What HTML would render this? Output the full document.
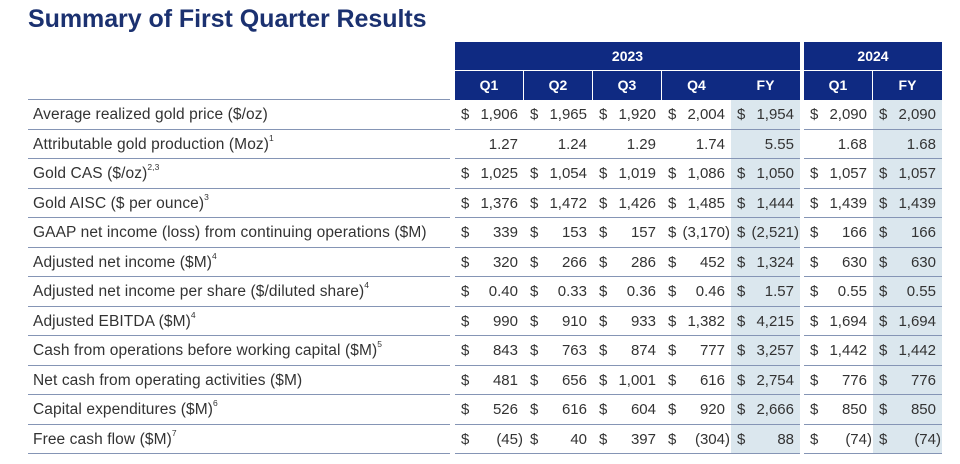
<!DOCTYPE html>
<html><head><meta charset="utf-8"><style>
body{margin:0;width:960px;height:464px;background:#fff;position:relative;overflow:hidden;font-family:"Liberation Sans",sans-serif;color:#333}
.t{position:absolute;left:28px;top:5px;font-size:25px;font-weight:bold;color:#1b3170;letter-spacing:-0.05px}
.h{position:absolute;background:#0f2a82;color:#fff;font-weight:bold;font-size:14px;text-align:center;box-sizing:border-box}
.sh{position:absolute;background:#dbe7ee}
.ln{position:absolute;height:1px;border-top:1px solid #8595b5;box-sizing:border-box;height:2px;border-bottom:0;background:none}
.lb{position:absolute;left:33px;font-size:15.5px;line-height:30px;height:29px;white-space:nowrap;letter-spacing:0.1px}
.lb sup{font-size:8.5px;line-height:0;position:relative;top:-2px}
.c{position:absolute;font-size:15px;line-height:30px;height:29px;box-sizing:border-box}
.c .d{position:absolute;left:6px}
.c .v{position:absolute;right:6px}
.c .v.p{right:1px}
</style></head><body>
<div class="t">Summary of First Quarter Results</div>
<div class="sh" style="left:731px;top:100px;width:69px;height:354px"></div>
<div class="sh" style="left:873px;top:100px;width:69px;height:354px"></div>
<div class="h" style="left:455px;top:42px;width:345px;height:28px;line-height:28px">2023</div>
<div class="h" style="left:804px;top:42px;width:138px;height:28px;line-height:28px">2024</div>
<div id="hd"></div>
<div id="rows"></div>
<script>
var cols=[455,524,593,662,731,804,873],w=69;
var hd='',names=['Q1','Q2','Q3','Q4','FY','Q1','FY'];
cols.forEach(function(x,i){hd+='<div class="h" style="left:'+x+'px;top:71px;width:'+(w-(i==3||i==4||i==6?0:1))+'px;height:29px;line-height:29px">'+names[i]+'</div>';});
document.getElementById('hd').innerHTML=hd;
var R=[
["Average realized gold price ($/oz)","",1,["1,906","1,965","1,920","2,004","1,954","2,090","2,090"]],
["Attributable gold production (Moz)","1",0,["1.27","1.24","1.29","1.74","5.55","1.68","1.68"]],
["Gold CAS ($/oz)","2,3",1,["1,025","1,054","1,019","1,086","1,050","1,057","1,057"]],
["Gold AISC ($ per ounce)","3",1,["1,376","1,472","1,426","1,485","1,444","1,439","1,439"]],
["GAAP net income (loss) from continuing operations ($M)","",1,["339","153","157","(3,170)","(2,521)","166","166"]],
["Adjusted net income ($M)","4",1,["320","266","286","452","1,324","630","630"]],
["Adjusted net income per share ($/diluted share)","4",1,["0.40","0.33","0.36","0.46","1.57","0.55","0.55"]],
["Adjusted EBITDA ($M)","4",1,["990","910","933","1,382","4,215","1,694","1,694"]],
["Cash from operations before working capital ($M)","5",1,["843","763","874","777","3,257","1,442","1,442"]],
["Net cash from operating activities ($M)","",1,["481","656","1,001","616","2,754","776","776"]],
["Capital expenditures ($M)","6",1,["526","616","604","920","2,666","850","850"]],
["Free cash flow ($M)","7",1,["(45)","40","397","(304)","88","(74)","(74)"]]];
var h='<div class="ln" style="left:28px;top:99px;width:422px"></div>';
R.forEach(function(r,i){var y=Math.round(100+i*29.5);
h+='<div class="lb" style="top:'+y+'px">'+r[0]+(r[1]?'<sup>'+r[1]+'</sup>':'')+'</div>';
cols.forEach(function(x,j){var v=r[3][j];h+='<div class="c" style="left:'+x+'px;top:'+y+'px;width:'+w+'px">'+(r[2]?'<span class="d">$</span>':'')+'<span class="v'+(v.charAt(0)=='('?' p':'')+'">'+v+'</span></div>';});
var by=Math.round(100+(i+1)*29.5)-1;
h+='<div class="ln" style="left:28px;top:'+by+'px;width:422px"></div><div class="ln" style="left:455px;top:'+by+'px;width:345px"></div><div class="ln" style="left:804px;top:'+by+'px;width:138px"></div>';});
document.getElementById('rows').innerHTML=h;
</script>
</body></html>
